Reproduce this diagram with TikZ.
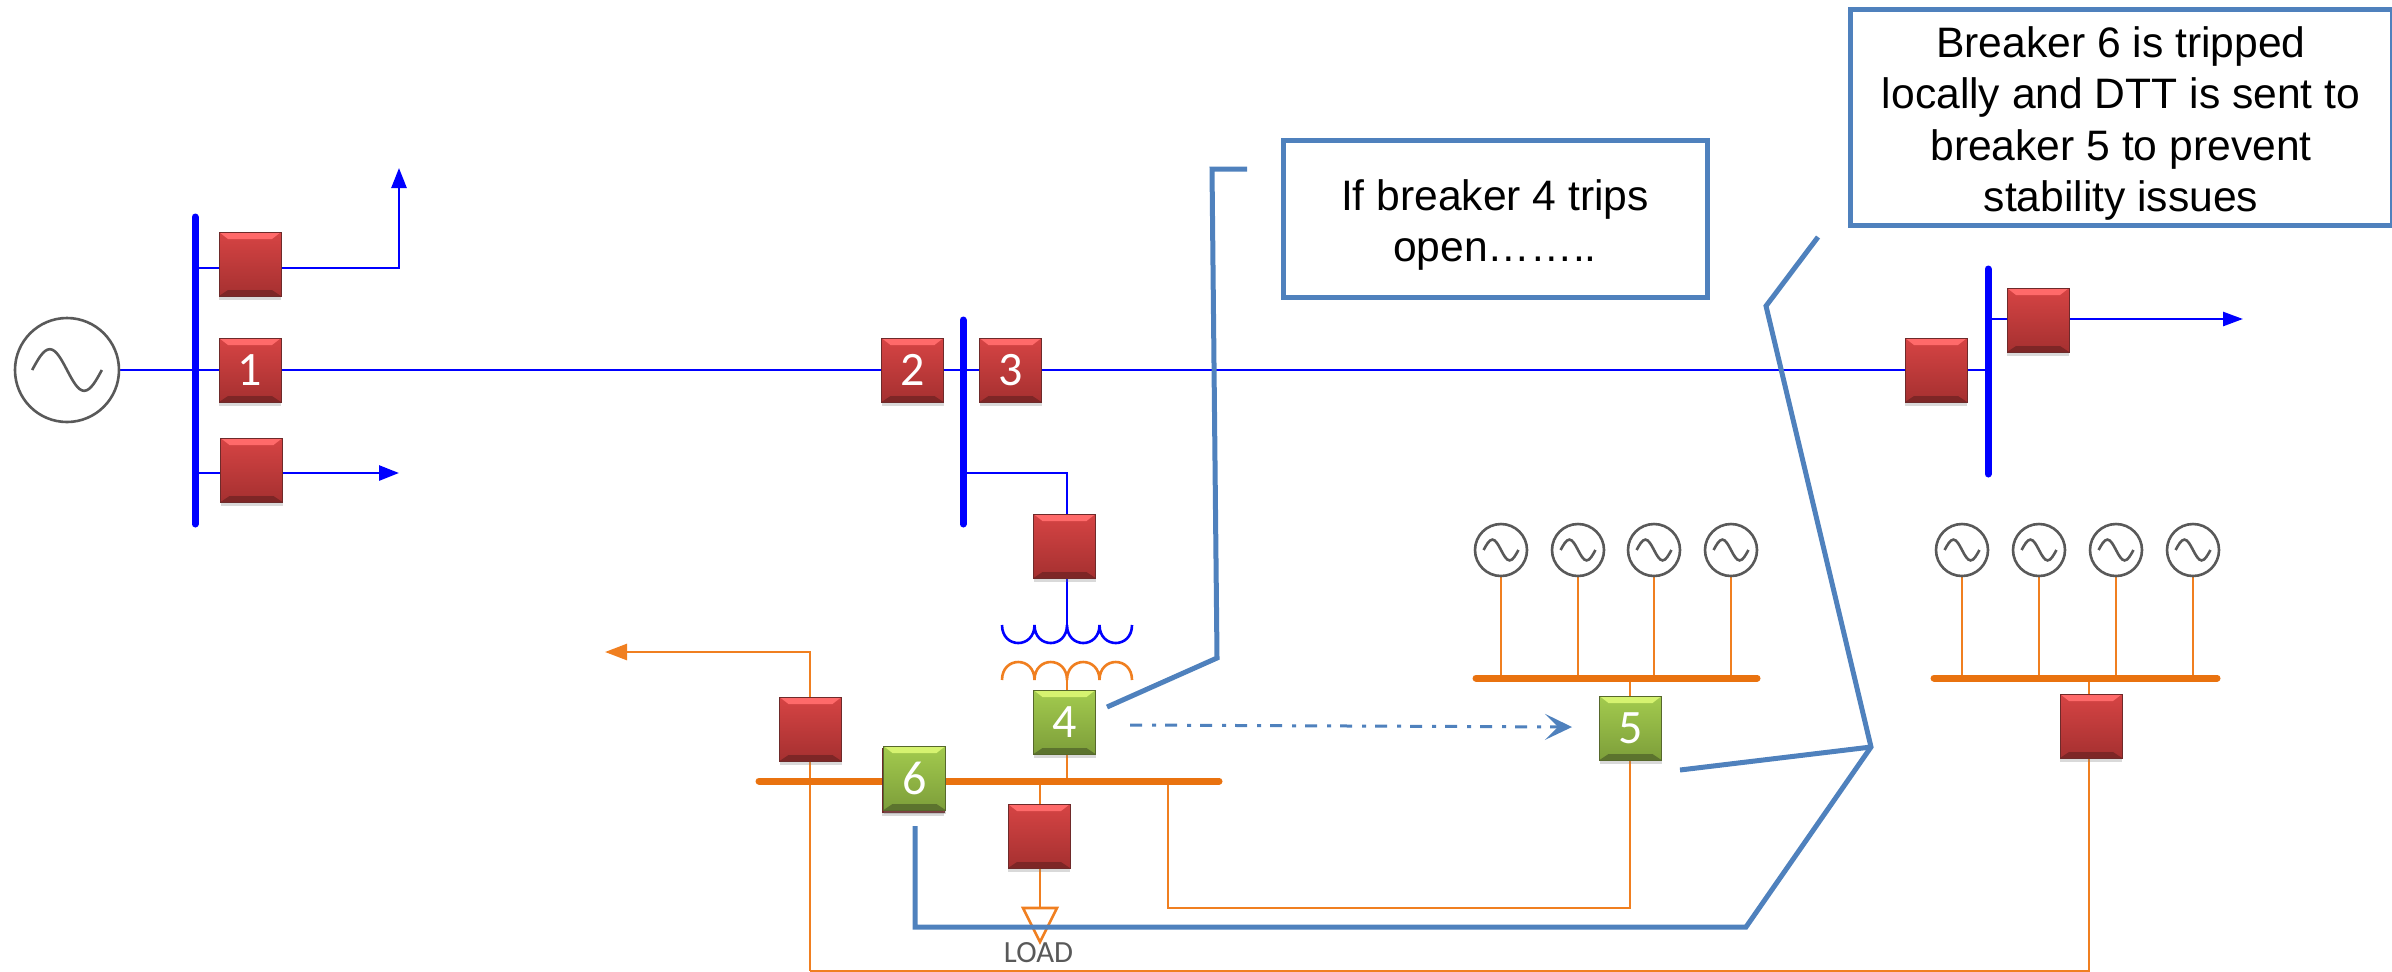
\documentclass[tikz,border=0pt]{standalone}
\usepackage{fontspec}
\setmainfont{Liberation Sans}
\newfontfamily\brkfont{Carlito}
\usetikzlibrary{arrows.meta,backgrounds,shadows}
\definecolor{linkblue}{HTML}{0000FF}
\definecolor{linkorange}{HTML}{F07F20}
\definecolor{busorange}{HTML}{E9720F}
\definecolor{callblue}{HTML}{4F81BD}
\definecolor{redtop}{HTML}{D64444}
\definecolor{redbot}{HTML}{A53030}
\definecolor{redhigh}{HTML}{FF6A6A}
\definecolor{redlow}{HTML}{7D2626}
\definecolor{redline}{HTML}{6E2A2A}
\definecolor{grntop}{HTML}{A3CB4E}
\definecolor{grnbot}{HTML}{7D9E3A}
\definecolor{grnhigh}{HTML}{D6F370}
\definecolor{grnlow}{HTML}{5C732E}
\definecolor{grnline}{HTML}{56682C}
\tikzset{
  bevel/.style 2 args={path picture={
    \fill [#1] (path picture bounding box.north west) -- (path picture bounding box.north east)
      -- ([xshift=-4.5pt,yshift=-3.5pt]path picture bounding box.north east)
      -- ([xshift=4.5pt,yshift=-3.5pt]path picture bounding box.north west) -- cycle;
    \fill [#2] (path picture bounding box.south west) -- (path picture bounding box.south east)
      -- ([xshift=-4.5pt,yshift=3pt]path picture bounding box.south east)
      -- ([xshift=4.5pt,yshift=3pt]path picture bounding box.south west) -- cycle;
  }},
  brkbox/.style={rectangle, minimum width=31pt, minimum height=32pt, inner sep=0pt,
    text=white, font=\brkfont\fontsize{24}{24}\selectfont, line width=.4pt,
    drop shadow={shadow xshift=0pt, shadow yshift=-2.2pt, opacity=.3}},
  redbrk/.style={brkbox, draw=redline, top color=redtop, bottom color=redbot, bevel={redhigh}{redlow}},
  grnbrk/.style={brkbox, draw=grnline, top color=grntop, bottom color=grnbot, bevel={grnhigh}{grnlow}},
  genr/.style={circle, draw=black!65, fill=white, line width=1.3pt, minimum size=#1, inner sep=0pt,
    path picture={\draw [black!65, line width=1.3pt, shift={(path picture bounding box.center)}, x=#1/2, y=#1/2]
      (-.67,0) sin (-.33,.4) cos (0,0) sin (.33,-.4) cos (.67,0);}},
  hvbus/.style={linkblue, line width=3.5pt, line cap=round},
  lvbus/.style={busorange, line width=3.5pt, line cap=round},
  hvlink/.style={linkblue, line width=1.35pt},
  lvlink/.style={linkorange, line width=1.3pt},
  calline/.style={callblue, line width=2.5pt},
  textbox/.style={rectangle, draw=callblue, fill=white, line width=2.5pt, inner sep=0pt, align=center,
    font=\fontsize{21.3}{25.6}\selectfont}
}
\begin{document}
\begin{tikzpicture}[x=.5pt,y=-.5pt]
\useasboundingbox (0,0) rectangle (2392,971);

\node (genmain) [genr=52pt] at (67,370) {};
\node (gena) [genr=26pt] at (1501,550) {};
\node (genb) [genr=26pt] at (1578,550) {};
\node (genc) [genr=26pt] at (1654,550) {};
\node (gend) [genr=26pt] at (1731,550) {};
\node (gene) [genr=26pt] at (1962,550) {};
\node (genf) [genr=26pt] at (2039,550) {};
\node (geng) [genr=26pt] at (2116,550) {};
\node (genh) [genr=26pt] at (2193,550) {};

\coordinate (busatop) at (195,217);
\coordinate (busabot) at (195,524);
\coordinate (busbtop) at (963,320);
\coordinate (busbbot) at (963,524);
\coordinate (busctop) at (1988,269);
\coordinate (buscbot) at (1988,474);
\coordinate (busdleft) at (759,781);
\coordinate (busdright) at (1219,781);
\coordinate (buseleft) at (1476,678);
\coordinate (buseright) at (1757,678);
\coordinate (busfleft) at (1934,678);
\coordinate (busfright) at (2217,678);

\node (brktop) [redbrk] at (250,264) {};
\node (brkone) [redbrk] at (250,370) {1};
\node (brkbot) [redbrk] at (251.5,470) {};
\node (brktwo) [redbrk] at (912.5,370) {2};
\node (brkthree) [redbrk] at (1010.5,370) {3};
\node (brktx) [redbrk] at (1064.5,546) {};
\node (brkin) [redbrk] at (1936,370) {};
\node (brkout) [redbrk] at (2038,320) {};
\node (brkfour) [grnbrk] at (1064.5,722) {4};
\node (brkleft) [redbrk] at (810.5,729) {};
\node (brkunder) [redbrk] at (913,780) {};
\node (brksix) [grnbrk] at (914.5,778) {6};
\node (brkload) [redbrk] at (1039,836) {};
\node (brkfive) [grnbrk] at (1630.5,728) {5};
\node (brkright) [redbrk] at (2091,726) {};

\coordinate (tipa) at (399,168);
\coordinate (rowa) at (195,268);
\coordinate (tipb) at (399,473);
\coordinate (tipc) at (2243,319);
\coordinate (tipd) at (605,652);
\coordinate (rowb) at (963,473);
\coordinate (coilhv) at (1067,625);
\coordinate (coillv) at (1067,680);
\coordinate (loadtop) at (1040,908);
\coordinate (loadleft) at (1023,908);
\coordinate (loadright) at (1057,908);
\coordinate (loadtip) at (1040,942);
\coordinate (feedleft) at (810,971);
\coordinate (feedright) at (2089,971);
\coordinate (lowleft) at (1168,908);
\coordinate (lowright) at (1630,908);

\begin{scope}[on background layer]
\draw [hvlink] (genmain.east) -- (brkin.west -| busctop);
\draw [hvlink,-{Triangle[length=10pt,width=7.5pt]}] (rowa) -| (tipa);
\draw [hvlink,-{Triangle[length=10pt,width=7.5pt]}] (tipb -| busabot) -- (tipb);
\draw [hvlink,-{Triangle[length=10pt,width=7pt]}] (tipc -| busctop) -- (tipc);
\draw [hvlink] (rowb) -| (coilhv |- brktx.north);
\draw [hvlink] (coilhv |- brktx.south) -- (coilhv);
\draw [lvlink] (coillv) -- (coillv |- busdleft);
\draw [lvlink,-{Triangle[length=11pt,width=8pt]}] (feedleft) -- (feedleft |- tipd) -- (tipd);
\draw [lvlink] (feedleft) -- (feedright) -- (feedright |- busfleft);
\draw [lvlink] (loadtop |- busdleft) -- (loadtop);
\draw [lvlink] (lowleft |- busdleft) -- (lowleft) -- (lowright) -- (lowright |- buseleft);
\draw [lvlink] (gena) -- (gena |- buseleft);
\draw [lvlink] (genb) -- (genb |- buseleft);
\draw [lvlink] (genc) -- (genc |- buseleft);
\draw [lvlink] (gend) -- (gend |- buseleft);
\draw [lvlink] (gene) -- (gene |- busfleft);
\draw [lvlink] (genf) -- (genf |- busfleft);
\draw [lvlink] (geng) -- (geng |- busfleft);
\draw [lvlink] (genh) -- (genh |- busfleft);
\draw [hvbus] (busatop) -- (busabot);
\draw [hvbus] (busbtop) -- (busbbot);
\draw [hvbus] (busctop) -- (buscbot);
\draw [lvbus] (busdleft) -- (busdright);
\draw [lvbus] (buseleft) -- (buseright);
\draw [lvbus] (busfleft) -- (busfright);
\end{scope}

\draw [linkblue, line width=1.3pt] (1002,625) .. controls +(0,24) and +(0,24) .. (1034.5,625)
  .. controls +(0,24) and +(0,24) .. (1067,625)
  .. controls +(0,24) and +(0,24) .. (1099.5,625)
  .. controls +(0,24) and +(0,24) .. (1132,625);
\draw [linkorange, line width=1.3pt] (1002,680) .. controls +(0,-24) and +(0,-24) .. (1034.5,680)
  .. controls +(0,-24) and +(0,-24) .. (1067,680)
  .. controls +(0,-24) and +(0,-24) .. (1099.5,680)
  .. controls +(0,-24) and +(0,-24) .. (1132,680);
\draw [lvlink] (loadleft) -- (loadright) -- (loadtip) -- cycle;
\node (loadtext) [text=black!65, font=\brkfont\fontsize{15.4}{16}\selectfont, inner sep=0pt] at (1038.5,952.5) {LOAD};

\node (fourtext) [textbox, minimum width=212pt, minimum height=78.5pt] at (1495,218.5) {\rule{0pt}{22pt}If breaker 4 trips\\open\dots\dots..};
\node (sixtext) [textbox, minimum width=271pt, minimum height=108pt] at (2121,117) {\rule{0pt}{22pt}Breaker 6 is tripped\\locally and DTT is sent to\\breaker 5 to prevent\\stability issues};

\coordinate (calla) at (1107,707);
\coordinate (callb) at (1217,658);
\coordinate (callc) at (1212,169);
\coordinate (calld) at (1247,169);
\coordinate (calle) at (915,826);
\coordinate (callf) at (915,927);
\coordinate (callg) at (1746,927);
\coordinate (callh) at (1871,747);
\coordinate (calli) at (1680,770);
\coordinate (callj) at (1766,306);
\coordinate (callk) at (1818,237);
\coordinate (dtta) at (1130,725);
\coordinate (dttb) at (1572,727);
\draw [calline] (calla) -- (callb) -- (callc) -- (calld);
\draw [calline] (calle) -- (callf) -- (callg) -- (callh) -- (callj) -- (callk);
\draw [calline] (calli) -- (callh);
\draw [callblue, line width=1.5pt, dash pattern=on 6pt off 5pt on 2pt off 4.5pt, -{Stealth[length=13.5pt,width=13pt,inset=6.5pt]}] (dtta) -- (dttb);
\end{tikzpicture}
\end{document}
